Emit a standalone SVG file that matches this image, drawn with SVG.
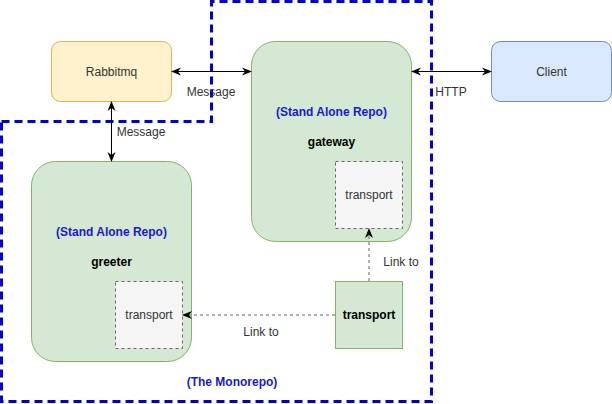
<svg xmlns="http://www.w3.org/2000/svg" width="612" height="404" viewBox="0 0 612 404">
<defs>
<marker id="ah" viewBox="0 0 10 10" refX="9" refY="5" markerWidth="10" markerHeight="10" markerUnits="userSpaceOnUse" orient="auto-start-reverse">
<path d="M0,1 L10,5 L0,9 L3,5 Z" fill="#000"/>
</marker>
</defs>
<style>
text{font-family:"Liberation Sans",Arial,sans-serif;font-size:12px;text-anchor:middle;dominant-baseline:central}
.green{fill:#d5e8d4;stroke:#82b366;stroke-width:1}
.inner{fill:#f5f5f5;stroke:#666;stroke-dasharray:3 3}
.blue{fill:#1a1acc;font-weight:bold}
.lbl{fill:#333}
.edge{fill:none;stroke:#000;stroke-width:1}
.dot{stroke:#666;stroke-dasharray:3 3}
</style>
<g id="monorepo">
<path d="M1.5,121.5 H211.5 V1.5 H431.5 V401.5 H1.5 Z" fill="none" stroke="#0000cc" stroke-width="3" stroke-dasharray="8 5"/>
<text x="232" y="382" class="blue">(The Monorepo)</text>
</g>
<g id="rabbitmq">
<rect x="51.5" y="41.5" width="120" height="60" rx="9" fill="#fff2cc" stroke="#d6b656"/>
<text x="111.5" y="72" class="lbl">Rabbitmq</text>
</g>
<g id="client">
<rect x="491.5" y="41.5" width="120" height="60" rx="9" fill="#dae8fc" stroke="#6c8ebf"/>
<text x="551.5" y="72" class="lbl">Client</text>
</g>
<g id="gateway">
<rect x="251.5" y="41.5" width="160" height="200" rx="24" class="green"/>
<text x="331.5" y="112" class="blue">(Stand Alone Repo)</text>
<text x="331.5" y="142" font-weight="bold" fill="#000">gateway</text>
</g>
<g id="gateway-transport">
<rect x="335.5" y="161.5" width="67" height="67" class="inner"/>
<text x="369" y="195" class="lbl">transport</text>
</g>
<g id="greeter">
<rect x="31.5" y="161.5" width="160" height="200" rx="24" class="green"/>
<text x="111.5" y="232" class="blue">(Stand Alone Repo)</text>
<text x="111.5" y="262" font-weight="bold" fill="#000">greeter</text>
</g>
<g id="greeter-transport">
<rect x="115.5" y="281.5" width="67" height="67" class="inner"/>
<text x="149" y="315" class="lbl">transport</text>
</g>
<g id="transport">
<rect x="335.5" y="281.5" width="67" height="67" class="green"/>
<text x="369" y="315" font-weight="bold" fill="#000">transport</text>
</g>
<g id="connectors">
<line x1="172" y1="71.5" x2="251" y2="71.5" class="edge" marker-start="url(#ah)" marker-end="url(#ah)"/>
<text x="211" y="92" class="lbl">Message</text>
<line x1="111.5" y1="102" x2="111.5" y2="161" class="edge" marker-start="url(#ah)" marker-end="url(#ah)"/>
<text x="141" y="132" class="lbl">Message</text>
<line x1="412" y1="71.5" x2="491" y2="71.5" class="edge" marker-start="url(#ah)" marker-end="url(#ah)"/>
<text x="451" y="92" class="lbl">HTTP</text>
<line x1="335" y1="315" x2="183" y2="315" class="edge dot" marker-end="url(#ah)"/>
<text x="261" y="332" class="lbl">Link to</text>
<line x1="369" y1="281" x2="369" y2="229" class="edge dot" marker-end="url(#ah)"/>
<text x="401" y="262" class="lbl">Link to</text>
</g>
</svg>
